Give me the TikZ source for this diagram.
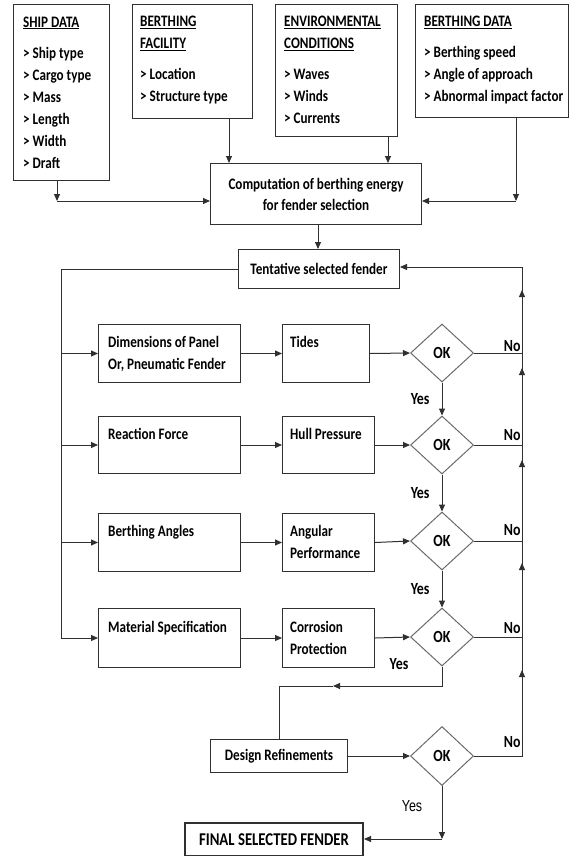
\documentclass[tikz,border=0pt]{standalone}
\usepackage{fontspec}
\setmainfont{Carlito}[FakeStretch=0.82]
\newfontfamily\plainfont{Liberation Sans}[FakeStretch=0.78]
\usetikzlibrary{arrows.meta,shapes.geometric,calc}
\definecolor{ink}{HTML}{303030}
\definecolor{edge}{HTML}{6A6A6A}

\begin{document}
\begin{tikzpicture}[x=1pt,y=1pt,
  box/.style={draw=ink, line width=1pt, inner sep=0pt, anchor=north west},
  txt/.style={font=\bfseries\fontsize{16}{22}\selectfont, align=left, inner sep=0pt, anchor=base west},
  ctxt/.style={font=\bfseries\fontsize{16}{21}\selectfont, align=center},
  lbl/.style={font=\bfseries\fontsize{17}{20}\selectfont, inner sep=0pt},
  dec/.style={diamond, draw=edge, line width=1pt, minimum width=63pt, minimum height=58pt,
              inner sep=0pt, font=\bfseries\fontsize{17}{20}\selectfont},
  flow/.style={draw=ink, line width=1pt},
  arr/.style={flow, -{Triangle[length=7pt,width=6pt]}},
]
\useasboundingbox (0,0) rectangle (570,-856);

% ---- input data boxes ----
\node[box, minimum width=96pt,  minimum height=176pt] (ship) at (13,-4) {};
\node[box, minimum width=120pt, minimum height=114pt] (fac)  at (132,-4) {};
\node[box, minimum width=122pt, minimum height=132pt] (env)  at (275,-4) {};
\node[box, minimum width=153pt, minimum height=113pt] (bdat) at (415,-4) {};

% multi-line texts are placed by the baseline of their last line
\node[txt] (shipT) at (23,-168) {\underline{SHIP DATA}\\[9pt] > Ship type\\ > Cargo type\\ > Mass\\ > Length\\ > Width\\ > Draft};
\node[txt] (facT) at (140,-102) {\underline{BERTHING}\\ \underline{FACILITY}\\[9pt] > Location\\ > Structure type};
\node[txt] (envT) at (284,-124) {\underline{ENVIRONMENTAL}\\ \underline{CONDITIONS}\\[9pt] > Waves\\ > Winds\\ > Currents};
\node[txt] (bdatT) at (424,-102) {\underline{BERTHING DATA}\\[9pt] > Berthing speed\\ > Angle of approach\\ > Abnormal impact factor};

% ---- energy computation and tentative fender ----
\node[box, ctxt, minimum width=211pt, minimum height=61pt] (comp) at (210,-163)
  {Computation of berthing energy\\ for fender selection};
\node[box, ctxt, minimum width=161pt, minimum height=39pt] (tent) at (238,-249)
  {Tentative selected fender};

% ---- check rows ----
\node[box, minimum width=142pt, minimum height=58pt] (dim)     at (98,-324) {};
\node[box, minimum width=87pt,  minimum height=58pt] (tides)   at (282,-324) {};
\node[box, minimum width=142pt, minimum height=57pt] (react)   at (98,-416) {};
\node[box, minimum width=92pt,  minimum height=57pt] (hull)    at (282,-416) {};
\node[box, minimum width=142pt, minimum height=58pt] (angles)  at (98,-513) {};
\node[box, minimum width=92pt,  minimum height=58pt] (angular) at (282,-513) {};
\node[box, minimum width=142pt, minimum height=59pt] (mat)     at (98,-608) {};
\node[box, minimum width=92pt,  minimum height=59pt] (corr)    at (282,-608) {};

\node[txt] (dimT)     at (108,-369) {Dimensions of Panel\\ Or, Pneumatic Fender};
\node[txt] (tidesT)   at (290,-347) {Tides};
\node[txt] (reactT)   at (108,-439) {Reaction Force};
\node[txt] (hullT)    at (290,-439) {Hull Pressure};
\node[txt] (anglesT)  at (108,-536) {Berthing Angles};
\node[txt] (angularT) at (290,-558) {Angular\\ Performance};
\node[txt] (matT)     at (108,-632) {Material Specification};
\node[txt] (corrT)    at (290,-654) {Corrosion\\ Protection};

\node[dec] (d1) at (442,-353) {OK};
\node[dec] (d2) at (442,-445) {OK};
\node[dec] (d3) at (442,-541) {OK};
\node[dec] (d4) at (442,-637) {OK};

% ---- refinement and final selection ----
\node[box, ctxt, minimum width=137pt, minimum height=33pt] (design) at (210,-739) {Design Refinements};
\node[dec, minimum height=59pt] (d5) at (442,-756) {OK};
\node[box, line width=2pt, minimum width=178pt, minimum height=33pt,
      font=\bfseries\fontsize{18}{20}\selectfont] (final) at (184,-822) {FINAL SELECTED FENDER};

% ---- connectors: inputs to computation ----
\coordinate (cl) at (57,-201);
\coordinate (cr) at (516,-201);
\coordinate (fa) at (229,0);
\coordinate (ea) at (388,0);
\coordinate (ct) at (318,0);
\draw[arr] (cl |- ship.south) -- (cl);
\draw[arr] (cl) -- (cl -| comp.west);
\draw[arr] (fa |- fac.south) -- (fa |- comp.north);
\draw[arr] (ea |- env.south) -- (ea |- comp.north);
\draw[arr] (cr |- bdat.south) -- (cr);
\draw[arr] (cr) -- (cr -| comp.east);
\draw[arr] (ct |- comp.south) -- (ct |- tent.north);

% ---- left trunk feeding each row ----
\coordinate (lt) at (61,-268);
\draw[flow] (tent.west) -| (lt |- mat.west);
\foreach \a/\b/\c in {dim/tides/d1, react/hull/d2, angles/angular/d3, mat/corr/d4}{
  \draw[arr] (lt |- \a.west) -- (\a.west);
  \draw[arr] (\a.east) -- (\b.west);
  \draw[arr] (\b.east) -- (\c.west);
}

% ---- yes branches ----
\draw[arr] (d1.south) -- (d2.north) node[lbl, midway, left=12pt] {Yes};
\draw[arr] (d2.south) -- (d3.north) node[lbl, midway, left=12pt] {Yes};
\draw[arr] (d3.south) -- (d4.north) node[lbl, midway, left=12pt] {Yes};
\node[lbl] (y4) at (399,-664) {Yes};
\coordinate (ja) at (333,-686);
\draw[arr] (d4.south) |- (ja);
\draw[flow] (ja) -| (design.north);
\draw[arr] (design.east) -- (d5.west);
\coordinate (jf) at (442,-839);
\draw[arr] (d5.south) -- (jf);
\draw[arr] (jf) -- (jf -| final.east);
\node[font=\plainfont\fontsize{16}{20}\selectfont, inner sep=0pt] (y5) at (412,-806) {Yes};

% ---- no branches back to the tentative fender ----
\coordinate (rt) at (522,-267);
\draw[flow] (d5.east) -| (rt);
\draw[arr] (rt) -- (rt -| tent.east);
\foreach \d/\len/\dy in {d1/63/1, d2/77/4, d3/81/5, d4/74/3, d5/86/8}{
  \draw[arr] (\d.east) -- (\d.east -| rt)
    node[lbl, anchor=south east, xshift=-1pt, yshift=\dy pt] {No} -- ++(0,\len);
}
\end{tikzpicture}
\end{document}
